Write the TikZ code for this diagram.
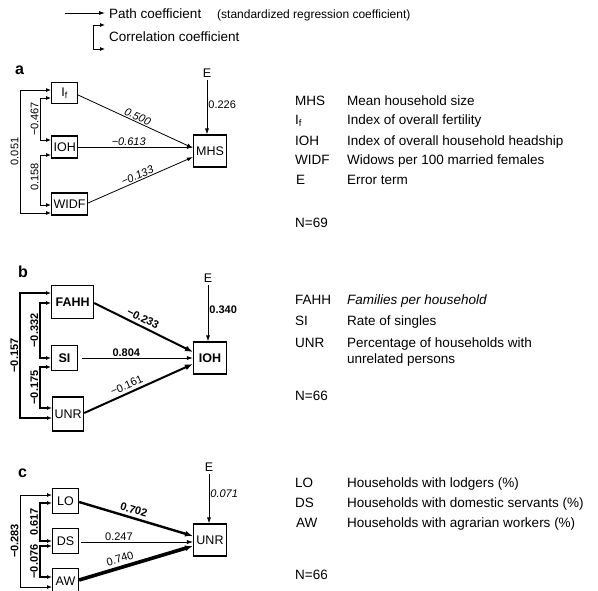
\documentclass[tikz,border=0pt]{standalone}
\usepackage{fontspec}
\setmainfont{Liberation Sans}
\usetikzlibrary{arrows.meta,positioning}

\begin{document}
\begin{tikzpicture}[
  x=1pt, y=-1pt,
  every node/.style={font=\fontsize{13.5}{16}\selectfont},
  var/.style={draw, line width=1.1pt, minimum width=26pt, minimum height=21pt, inner sep=2pt, font=\fontsize{12.5}{14}\selectfont},
  bvar/.style={var, inner xsep=4pt, font=\fontsize{12.5}{14}\selectfont\bfseries},
  dep/.style={var, minimum width=33pt, minimum height=32pt},
  err/.style={inner sep=2pt, font=\fontsize{12.5}{14}\selectfont},
  causal/.style={-{Latex[length=6pt,width=4pt]}, line width=0.8pt},
  heavy/.style={-{Latex[length=8pt,width=6pt]}, line width=#1},
  corr/.style={{Latex[length=5pt,width=4pt]}-{Latex[length=5pt,width=4pt]}, line width=0.8pt},
  coef/.style={inner sep=1pt, font=\fontsize{11}{13}\selectfont},
  coefit/.style={coef, font=\fontsize{11}{13}\selectfont\itshape},
  coefbf/.style={coef, font=\fontsize{11}{13}\selectfont\bfseries},
  rcoef/.style={coef, rotate=90, anchor=south},
  rcoefbf/.style={coefbf, rotate=90, anchor=south},
  key/.style={anchor=base west, inner sep=0pt},
  panel/.style={anchor=west, inner sep=0pt, font=\fontsize{16}{18}\selectfont\bfseries}
]
\useasboundingbox (0,0) rectangle (598,590);

% key to the arrows
\coordinate (keystart) at (65,13);
\node[key] (pathkey) at (109,18) {Path coefficient};
\node[key, font=\fontsize{12}{14}\selectfont] (pathnote) at (217,18) {(standardized regression coefficient)};
\draw[causal, shorten >=4pt] (keystart) -- (keystart -| pathkey.west);
\node[key] (corrkey) at (109,41) {Correlation coefficient};
\coordinate (corrtop) at (105,25);
\coordinate (corrbot) at (105,49);
\draw[corr] (corrtop) -- ++(-12,0) |- (corrbot);

% panel a
\node[panel] (pa) at (15,70) {a};
\node[var, anchor=west] (If) at (51,93) {I\textsubscript{f}};
\node[var, anchor=west, minimum height=22pt] (IOHa) at (51,147) {IOH};
\node[var, anchor=west, minimum height=22pt] (WIDF) at (51,204) {WIDF};
\node[dep] (MHS) at (210,151) {MHS};
\node[err] (Ea) at (207,73) {E};

\draw[causal] ([yshift=-2pt]If.east) -- ([yshift=3pt]MHS.west)
  node[coefit, midway, sloped, above] {0.500};
\draw[causal] (IOHa.east) -- (IOHa.east -| MHS.west)
  node[coefit, pos=0.44, above] {−0.613};
\draw[causal] ([yshift=1pt]WIDF.east) -- ([yshift=-6pt]MHS.west)
  node[coefit, pos=0.49, sloped, above] {−0.133};
\draw[causal] (Ea.south) -- (Ea.south |- MHS.north)
  node[coef, pos=0.45, right] {0.226};

\draw[corr] ([yshift=-5pt]If.west) -- ++(-11,0) |- ([yshift=7pt]IOHa.west)
  node[rcoef, pos=0.25] {−0.467};
\draw[corr] ([yshift=-8pt]IOHa.west) -- ++(-11,0) |- ([yshift=-1pt]WIDF.west)
  node[rcoef, pos=0.22] {0.158};
\draw[corr] ([yshift=3pt]If.west) -- ++(-31,0) |- ([yshift=-9pt]WIDF.west)
  node[rcoef, pos=0.25] {0.051};

% panel b
\node[panel] (pb) at (18,272) {b};
\node[bvar, anchor=west, minimum height=33pt] (FAHH) at (51,302) {FAHH};
\node[bvar, anchor=west, minimum height=25pt] (SI) at (51,358) {SI};
\node[var, anchor=west, minimum height=34pt] (UNRb) at (52,414) {UNR};
\node[dep, font=\fontsize{12.5}{14}\selectfont\bfseries] (IOHb) at (210,358) {IOH};
\node[err] (Eb) at (208,278) {E};

\draw[heavy=2pt] ([yshift=-1pt]FAHH.east) -- ([yshift=6pt]IOHb.west)
  node[coefbf, pos=0.46, sloped, above=2pt] {−0.233};
\draw[causal, shorten <=4pt] (SI.east) -- (SI.east -| IOHb.west)
  node[coefbf, pos=0.42, above] {0.804};
\draw[heavy=2pt] ([yshift=1pt]UNRb.east) -- ([yshift=-6pt]IOHb.west)
  node[coef, pos=0.42, sloped, above=2pt] {−0.161};
\draw[causal] (Eb.south) -- (Eb.south |- IOHb.north)
  node[coefbf, pos=0.45, right] {0.340};

\draw[corr, line width=1.3pt] ([yshift=-1pt]FAHH.west) -- ++(-11,0) |- (SI.west)
  node[rcoefbf, pos=0.25] {−0.332};
\draw[corr, line width=1.3pt] ([yshift=-9pt]SI.west) -- ++(-11,0) |- ([yshift=6pt]UNRb.west)
  node[rcoefbf, pos=0.25] {−0.175};
\draw[corr, line width=1.3pt] ([yshift=9pt]FAHH.west) -- ++(-31,0) |- ([yshift=-4pt]UNRb.west)
  node[rcoefbf, pos=0.25] {−0.157};

% panel c
\node[panel] (pc) at (18,473) {c};
\node[var, anchor=west, minimum height=25pt] (LO) at (52,501) {LO};
\node[var, anchor=west, minimum height=25pt] (DS) at (52,541) {DS};
\node[var, anchor=west, minimum height=25pt] (AW) at (52,581) {AW};
\node[dep] (UNRc) at (210,540) {UNR};
\node[err] (Ec) at (209,467) {E};

\draw[heavy=2.4pt] ([yshift=-1pt]LO.east) -- ([yshift=4pt]UNRc.west)
  node[coefbf, pos=0.46, sloped, above=2pt] {0.702};
\draw[causal, line width=0.5pt, shorten <=2pt] ([yshift=-1pt]DS.east) -- ([yshift=-1pt]DS.east -| UNRc.west)
  node[coef, pos=0.35, above] {0.247};
\draw[heavy=3.6pt] ([yshift=1pt]AW.east) -- ([yshift=-6pt]UNRc.west)
  node[coef, pos=0.38, sloped, above=2pt] {0.740};
\draw[causal] (Ec.south) -- (Ec.south |- UNRc.north)
  node[coefit, pos=0.4, right] {0.071};

\draw[corr, line width=1.8pt] ([yshift=-2pt]LO.west) -- ++(-12,0) |- (DS.west)
  node[rcoefbf, pos=0.25] {0.617};
\draw[corr, line width=1.8pt] ([yshift=-5pt]DS.west) -- ++(-12,0) |- ([yshift=4pt]AW.west)
  node[rcoefbf, pos=0.25] {−0.076};
\draw[corr] ([yshift=6pt]LO.west) -- ++(-32,0) |- ([yshift=-6pt]AW.west)
  node[rcoefbf, pos=0.25] {−0.283};

% legends
\node[key] (kMHS) at (295,105) {MHS};
\node[key] (dMHS) at (347,105) {Mean household size};
\node[key] (kIf) at (295,124) {I\textsubscript{f}};
\node[key] (dIf) at (347,124) {Index of overall fertility};
\node[key] (kIOH) at (295,145) {IOH};
\node[key] (dIOH) at (347,145) {Index of overall household headship};
\node[key] (kWIDF) at (295,164) {WIDF};
\node[key] (dWIDF) at (347,164) {Widows per 100 married females};
\node[key] (kE) at (296,184) {E};
\node[key] (dE) at (347,184) {Error term};
\node[key] (Na) at (295,227) {N=69};

\node[key] (kFAHH) at (295,304) {FAHH};
\node[key] (dFAHH) at (347,304) {\itshape Families per household};
\node[key] (kSI) at (295,325) {SI};
\node[key] (dSI) at (347,325) {Rate of singles};
\node[key] (kUNR) at (295,347) {UNR};
\node[key] (dUNR) at (347,347) {Percentage of households with};
\node[key] (dUNR2) at (347,363) {unrelated persons};
\node[key] (Nb) at (295,400) {N=66};

\node[key] (kLO) at (295,487) {LO};
\node[key] (dLO) at (347,487) {Households with lodgers (\%)};
\node[key] (kDS) at (295,507) {DS};
\node[key] (dDS) at (347,507) {Households with domestic servants (\%)};
\node[key] (kAW) at (296,527) {AW};
\node[key] (dAW) at (347,527) {Households with agrarian workers (\%)};
\node[key] (Nc) at (295,579) {N=66};

\end{tikzpicture}
\end{document}
